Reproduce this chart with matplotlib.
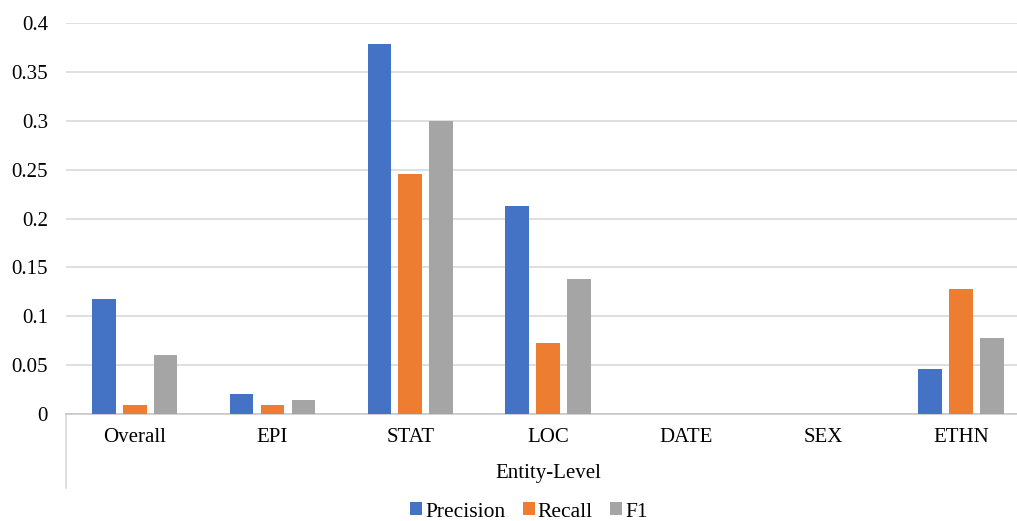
"""Entity-level precision / recall / F1 grouped bar chart (Excel style)."""

import numpy as np
import matplotlib.pyplot as plt

categories = ['Overall', 'EPI', 'STAT', 'LOC', 'DATE', 'SEX', 'ETHN']
precision = [0.118, 0.021, 0.378, 0.213, 0.0, 0.0, 0.046]
recall = [0.010, 0.009, 0.245, 0.073, 0.0, 0.0, 0.128]
f1 = [0.061, 0.015, 0.300, 0.138, 0.0, 0.0, 0.078]
series_names = ['Precision', 'Recall', 'F1']
yticks = [0, 0.05, 0.1, 0.15, 0.2, 0.25, 0.3, 0.35, 0.4]
ytick_labels = ['0', '0.05', '0.1', '0.15', '0.2', '0.25', '0.3', '0.35', '0.4']
group_label = 'Entity-Level'

plt.rcParams.update({
    'font.family': ['Liberation Serif', 'DejaVu Serif'],
    'font.size': 15,
})

colors = ['#4472C4', '#ED7D31', '#A5A5A5']
grid_c = '#d9d9d9'

fig = plt.figure(figsize=(10.17, 5.21), dpi=100)
ax = fig.add_axes([0.0649, 0.2048, 1.0 - 0.0649, 0.7516])

x = np.arange(len(categories))
width = 0.171
offset = 0.224
bars = []
for i, (vals, name) in enumerate(zip([precision, recall, f1], series_names)):
    b = ax.bar(x + (i - 1) * offset, vals, width, color=colors[i], label=name,
               zorder=3)
    bars.append(b)

ax.set_ylim(0, 0.4)
ax.set_xlim(-0.5, 6.406)
ax.set_yticks(yticks)
ax.set_yticklabels(ytick_labels)
ax.set_xticks(x)
ax.set_xticklabels(categories)
ax.tick_params(axis='y', length=0, pad=13)
ax.tick_params(axis='x', length=0, pad=10)
ax.yaxis.grid(True, color=grid_c, linewidth=1.2, zorder=0)
ax.set_axisbelow(True)

for s in ['top', 'right', 'left']:
    ax.spines[s].set_visible(False)
ax.spines['bottom'].set_color('#c8c8c8')
ax.spines['bottom'].set_linewidth(1.2)

# outer category box line on the left
ax.plot([0, 0], [0, -0.189], transform=ax.transAxes, color=grid_c,
        linewidth=1.2, clip_on=False)

ax.text(3, -0.152, group_label, transform=ax.get_xaxis_transform(),
        ha='center', va='center')

fig.legend(handles=bars, labels=series_names, loc='center',
           bbox_to_anchor=(529 / 1017, 1 - 512 / 521), ncol=3, frameon=False,
           fontsize=15.5, handlelength=0.55, handleheight=0.55,
           handletextpad=0.15, columnspacing=0.8, borderaxespad=0)

fig.savefig('out.png', dpi=100)
